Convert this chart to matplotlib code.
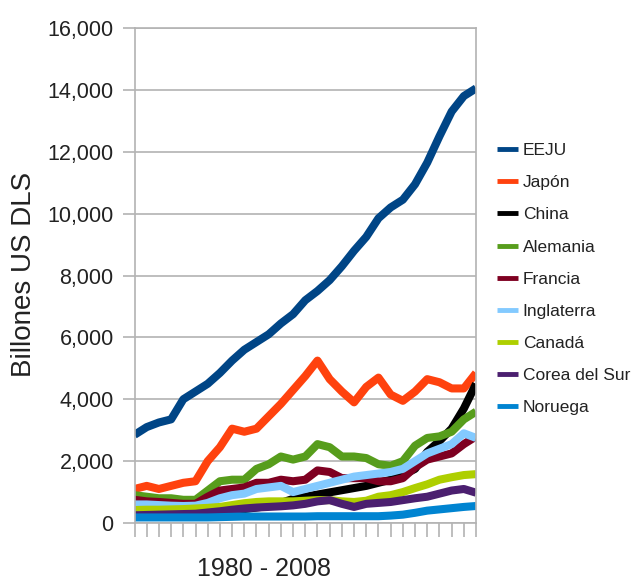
import numpy as np
import matplotlib
matplotlib.use("Agg")
import matplotlib.pyplot as plt
from matplotlib.ticker import FuncFormatter

# GDP, billions of US dollars, 1980 - 2008
years = np.arange(1980, 2009)
eeju = [2850, 3100, 3250, 3350, 4000, 4250, 4500, 4850, 5250, 5600, 5850, 6100, 6450, 6750, 7200,
        7500, 7850, 8300, 8800, 9250, 9850, 10200, 10450, 10950, 11650, 12500, 13300, 13800, 14050]
japon = [1100, 1200, 1100, 1200, 1300, 1350, 2000, 2450, 3050, 2950, 3050, 3450, 3850, 4300, 4750,
         5250, 4650, 4250, 3900, 4400, 4700, 4150, 3950, 4250, 4650, 4550, 4350, 4350, 4850]
china = [300, 290, 280, 300, 310, 310, 300, 330, 400, 450, 500, 550, 650, 780, 850,
         920, 990, 1060, 1130, 1200, 1300, 1400, 1550, 1750, 2300, 2650, 3050, 3700, 4500]
alemania = [900, 850, 800, 800, 750, 750, 1050, 1350, 1400, 1400, 1750, 1900, 2150, 2050, 2150,
            2550, 2450, 2150, 2150, 2100, 1900, 1850, 2000, 2500, 2750, 2800, 2950, 3350, 3600]
francia = [750, 700, 680, 650, 620, 620, 850, 1050, 1100, 1150, 1300, 1300, 1400, 1350, 1400,
           1700, 1650, 1450, 1450, 1450, 1350, 1350, 1450, 1800, 2050, 2150, 2250, 2550, 2800]
inglaterra = [600, 600, 580, 560, 550, 560, 650, 800, 900, 950, 1100, 1150, 1200, 1000, 1100,
              1200, 1300, 1400, 1500, 1550, 1600, 1650, 1750, 2000, 2250, 2400, 2550, 2900, 2750]
canada = [420, 430, 430, 440, 450, 470, 490, 520, 580, 640, 680, 700, 700, 700, 720,
          740, 740, 700, 680, 720, 850, 900, 1000, 1130, 1250, 1400, 1480, 1550, 1580]
corea = [250, 260, 270, 280, 290, 300, 340, 380, 430, 470, 500, 520, 540, 570, 620,
         700, 740, 620, 520, 620, 650, 680, 740, 800, 850, 950, 1050, 1100, 980]
noruega = [180, 180, 180, 180, 180, 180, 180, 190, 200, 210, 210, 210, 210, 210, 210,
           220, 220, 220, 220, 220, 220, 240, 270, 330, 400, 440, 480, 520, 550]

labels = ["EEJU", "Japón", "China", "Alemania", "Francia", "Inglaterra", "Canadá",
          "Corea del Sur", "Noruega"]
colors = ["#004586", "#ff420e", "#000000", "#579d1c", "#7e0021", "#83caff", "#aecf00",
          "#4b1f6f", "#0084d1"]
series = [eeju, japon, china, alemania, francia, inglaterra, canada, corea, noruega]

plt.rcParams["font.family"] = ["Liberation Sans", "DejaVu Sans"]
grid_c = "#b3b3b3"
text_c = "#222222"

fig = plt.figure(figsize=(6.36, 5.81), dpi=100)
ax = fig.add_axes([0.2115, 0.0998, 0.537, 0.852])

x = np.arange(len(years))
for vals, lab, c in zip(series, labels, colors):
    ax.plot(x, vals, color=c, lw=5.8, label=lab, solid_capstyle="butt", solid_joinstyle="round")

ax.set_xlim(0, len(years) - 1)
ax.set_ylim(0, 16000)
ax.set_yticks(np.arange(0, 16001, 2000))
ax.yaxis.set_major_formatter(FuncFormatter(lambda v, p: f"{int(v):,}"))
ax.set_xticks(x)
ax.set_xticklabels([])
ax.yaxis.grid(True, color=grid_c, lw=1.2)
ax.set_axisbelow(True)
for s in ax.spines.values():
    s.set_color(grid_c)
    s.set_linewidth(1.2)
ax.tick_params(axis="y", length=9, width=1.2, color=grid_c, pad=6, labelcolor=text_c,
               labelsize=15.5)
ax.tick_params(axis="x", length=10, width=1.2, color=grid_c)

fig.text(0.038, 0.528, "Billones US DLS", rotation=90, ha="center", va="center",
         fontsize=20, color=text_c)
fig.text(0.415, 0.021, "1980 - 2008", ha="center", va="center", fontsize=18, color=text_c)

leg = ax.legend(loc="upper left", bbox_to_anchor=(0.781, 0.754), bbox_transform=fig.transFigure,
                frameon=False, fontsize=12.5, handlelength=1.2, handletextpad=0.3,
                labelspacing=0.98, borderaxespad=0, borderpad=0)
for l in leg.get_lines():
    l.set_linewidth(3.5)
for t in leg.get_texts():
    t.set_color(text_c)

fig.savefig("out.png", dpi=100)
